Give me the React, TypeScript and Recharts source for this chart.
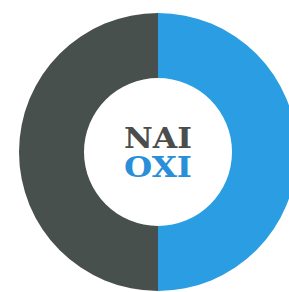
import React from "react";
import { PieChart, Pie, Cell } from "recharts";

const categories = ["OXI", "NAI"];
const values = [50, 50];
const colors = ["#2b9de3", "#48504d"];
const centerLabels = ["NAI", "OXI"];
const labelColors = ["#4a4d4c", "#2a8fd8"];

const data = categories.map((name, i) => ({ name, value: values[i] }));

const CX = 158;
const CY = 152;

export default function App() {
  return (
    <div style={{ position: "absolute", left: 0, top: 0, width: 289, height: 292, background: "#fff" }}>
      <PieChart width={289} height={292} margin={{ top: 0, right: 0, bottom: 0, left: 0 }}>
        <Pie
          data={data}
          dataKey="value"
          nameKey="name"
          cx={CX}
          cy={CY}
          innerRadius={74}
          outerRadius={139}
          startAngle={90}
          endAngle={-270}
          stroke="none"
          isAnimationActive={false}
        >
          {data.map((d, i) => (
            <Cell key={d.name} fill={colors[i]} stroke="none" />
          ))}
        </Pie>
      </PieChart>
      <svg
        width={289}
        height={292}
        style={{ position: "absolute", left: 0, top: 0, pointerEvents: "none" }}
      >
        <text
          x={CX}
          y={CY - 4}
          textAnchor="middle"
          fontFamily="'DejaVu Serif', serif"
          fontWeight="bold"
          fontSize={27}
          fill={labelColors[0]}
          textLength={68}
          lengthAdjust="spacingAndGlyphs"
        >
          {centerLabels[0]}
        </text>
        <text
          x={CX}
          y={CY + 25}
          textAnchor="middle"
          fontFamily="'DejaVu Serif', serif"
          fontWeight="bold"
          fontSize={27}
          fill={labelColors[1]}
          textLength={68}
          lengthAdjust="spacingAndGlyphs"
        >
          {centerLabels[1]}
        </text>
      </svg>
    </div>
  );
}
